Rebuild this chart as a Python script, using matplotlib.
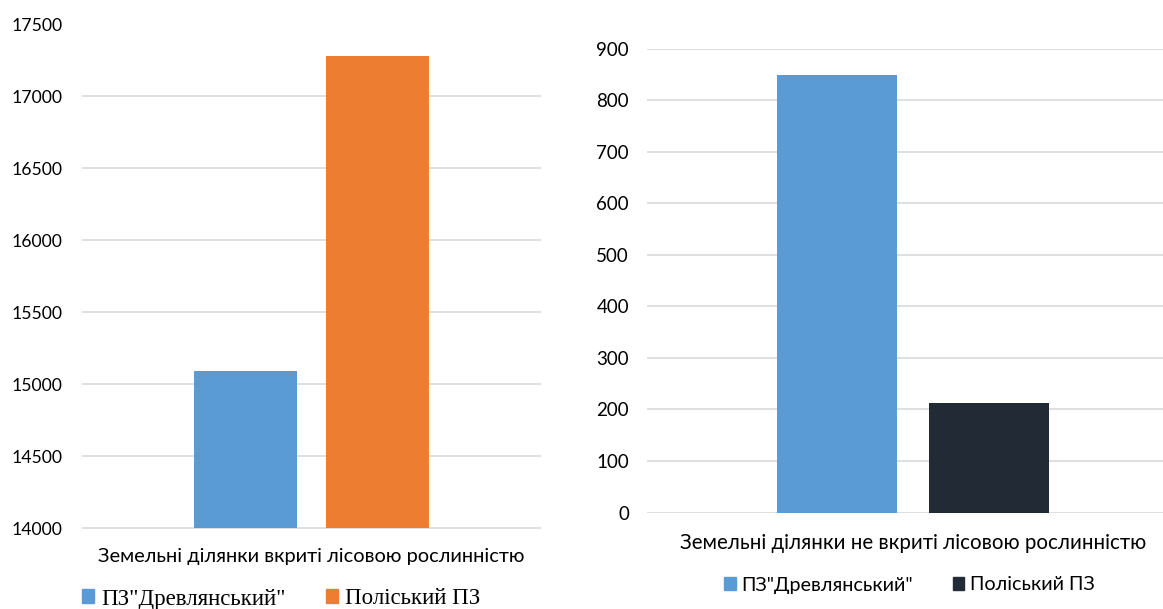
import matplotlib.pyplot as plt
from matplotlib.patches import Patch

# data
series = ['ПЗ"Древлянський"', 'Поліський ПЗ']
forest_vals = [15095, 17282]
nonforest_vals = [848, 213]
forest_label = 'Земельні ділянки вкриті лісовою рослинністю'
nonforest_label = 'Земельні ділянки не вкриті лісовою рослинністю'
left_colors = ['#5B9BD5', '#ED7D31']
right_colors = ['#5B9BD5', '#222A35']

sans = ['Lato', 'Noto Sans', 'DejaVu Sans']
plt.rcParams['font.family'] = sans

W, H = 1163, 609
fig = plt.figure(figsize=(W / 100, H / 100), dpi=100)


def px_axes(x0, y0, x1, y1):
    return fig.add_axes([x0 / W, 1 - y1 / H, (x1 - x0) / W, (y1 - y0) / H])


def style(ax, lo, hi, step, fs, pad):
    ax.set_xlim(-0.5, 0.5)
    ax.set_ylim(lo, hi)
    ax.set_yticks(range(lo, hi + 1, step))
    for s in ax.spines.values():
        s.set_visible(False)
    ax.grid(axis='y', color='#D9D9D9', linewidth=1.2)
    ax.set_axisbelow(True)
    ax.set_xticks([])
    ax.tick_params(axis='y', length=0, pad=pad, labelsize=fs, labelcolor='#000000')


width = 0.224
offs = [-0.143, 0.143]

# left chart
ax1 = px_axes(82, 24.5, 541, 528.5)
style(ax1, 14000, 17500, 500, 12.7, 14)
for o, v, c in zip(offs, forest_vals, left_colors):
    ax1.bar(o, v - 14000, width, bottom=14000, color=c)
ax1.text(0.5, -0.055, forest_label, transform=ax1.transAxes, ha='center', va='center',
         fontsize=14.4)
h1 = [Patch(color=c) for c in left_colors]
fig.legend(h1, series, loc='center left', bbox_to_anchor=(61 / W, 1 - 599 / H),
           ncol=2, frameon=False, handlelength=0.55, handleheight=0.55, handletextpad=0.3,
           columnspacing=1.75, prop={'family': 'Liberation Serif', 'size': 16.5})

# right chart
ax2 = px_axes(647, 48.5, 1179, 512.5)
style(ax2, 0, 900, 100, 13.5, 13)
for o, v, c in zip(offs, nonforest_vals, right_colors):
    ax2.bar(o, v, width, color=c)
ax2.text(0.5, -0.066, nonforest_label, transform=ax2.transAxes, ha='center', va='center',
         fontsize=14.8)
h2 = [Patch(color=c) for c in right_colors]
fig.legend(h2, series, loc='center left', bbox_to_anchor=(706 / W, 1 - 585 / H),
           ncol=2, frameon=False, handlelength=0.6, handleheight=0.6, handletextpad=0.3,
           columnspacing=2.0, prop={'size': 14.2})

fig.savefig('out.png', dpi=100)
